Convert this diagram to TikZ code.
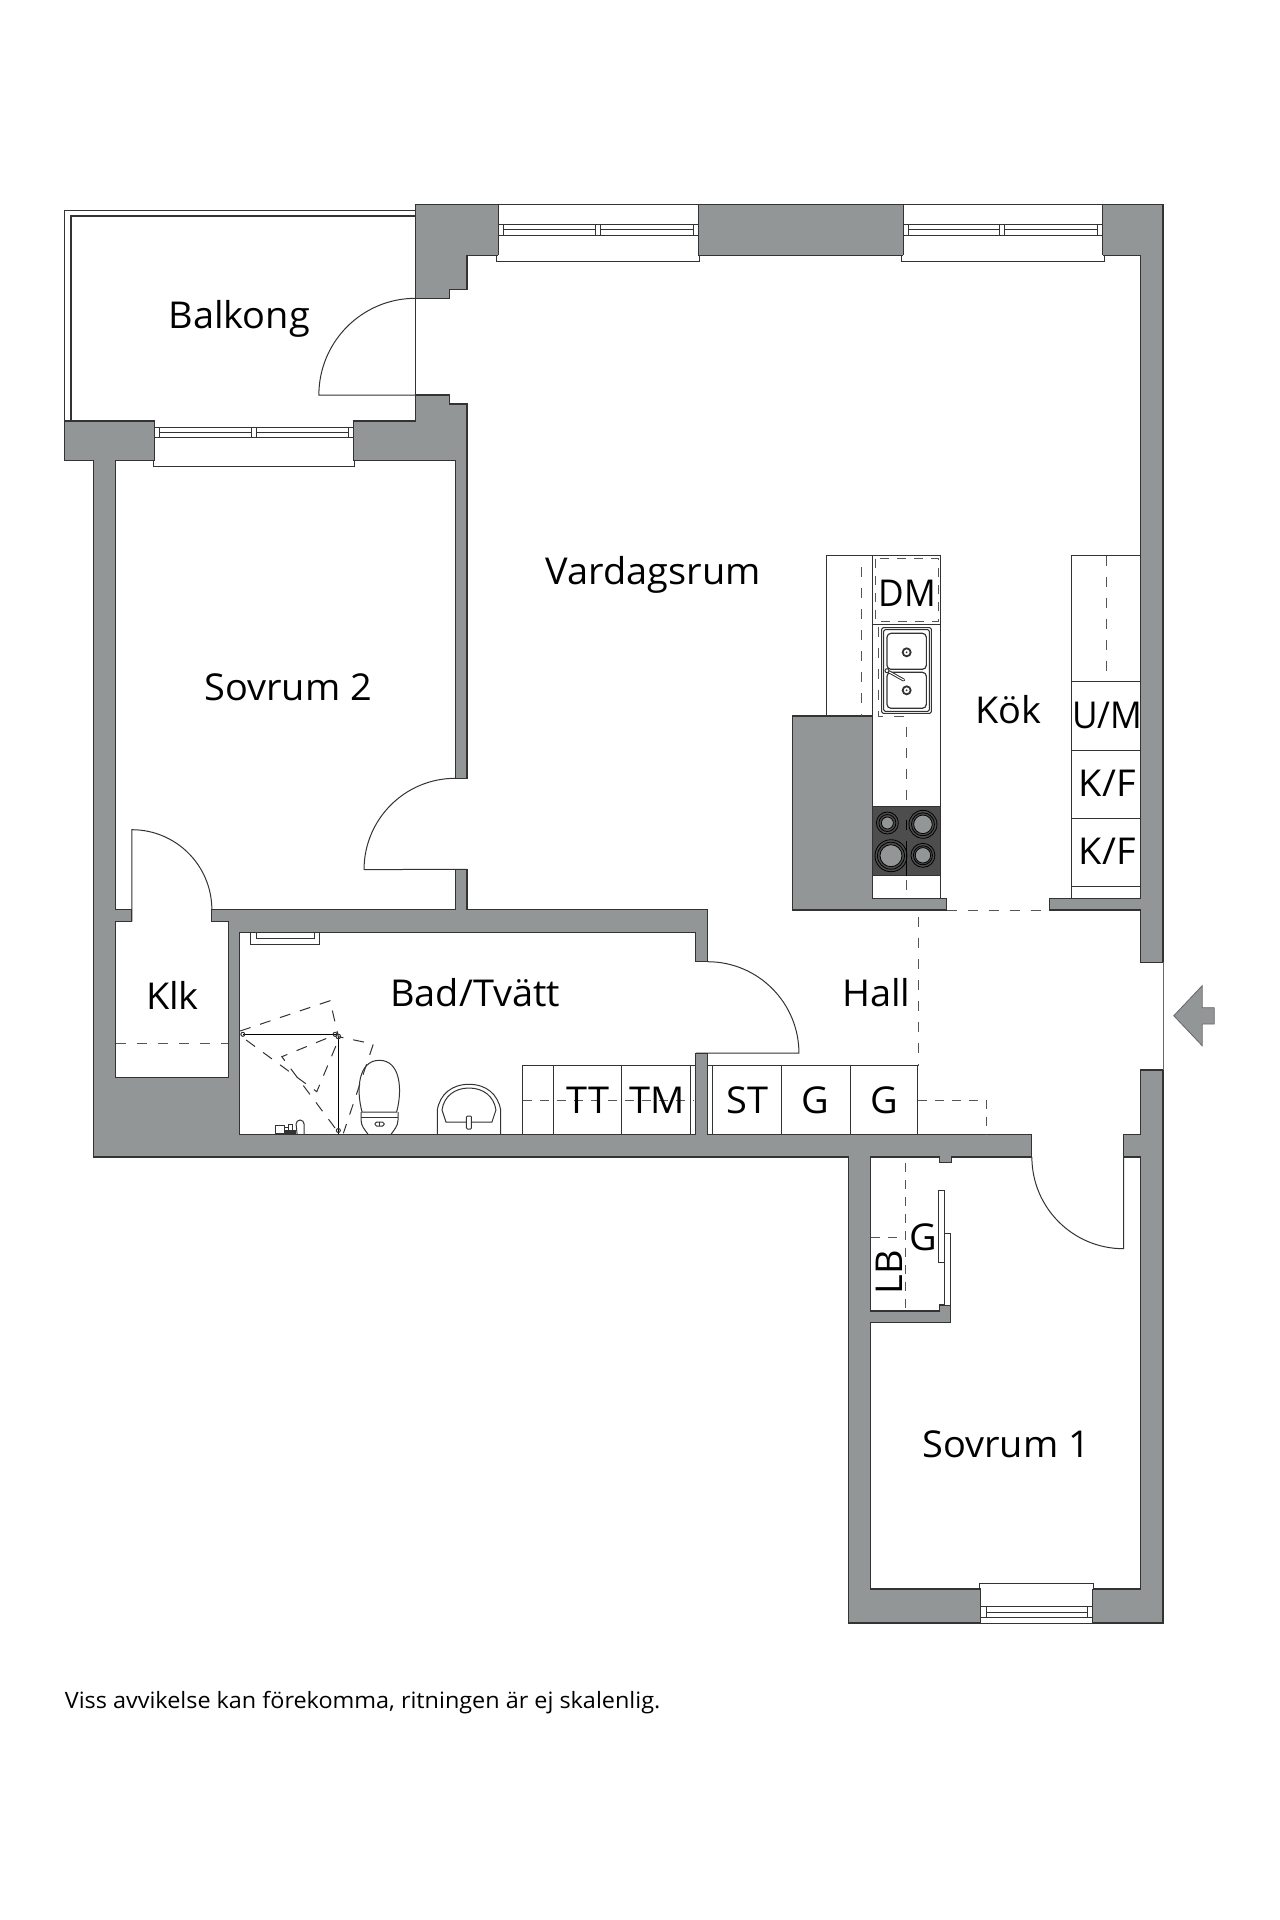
\documentclass[tikz,border=0pt]{standalone}
\usepackage{fontspec}
\setmainfont[FakeStretch=1.025]{Open Sans}
\newfontfamily\narrowfont[FakeStretch=0.95]{Open Sans}
\newfontfamily\notefont[FakeStretch=1.04]{Open Sans}
\definecolor{wallc}{HTML}{929696}
\definecolor{linec}{HTML}{333333}
\definecolor{hobc}{HTML}{4D4D4D}
\definecolor{dashc}{HTML}{555555}
\tikzset{
  wall/.style={fill=wallc,draw=linec,line width=1.1pt,line join=miter},
  thin line/.style={draw=linec,line width=1pt},
  dash line/.style={draw=dashc,line width=0.9pt,dash pattern=on 10pt off 11pt},
  room/.style={anchor=base,font=\fontsize{37}{37}\selectfont,text=black,inner sep=0pt},
  small dash/.style={draw=dashc,line width=0.9pt,dash pattern=on 9pt off 8pt},
  shower dash/.style={draw=linec,line width=1pt,dash pattern=on 11pt off 10pt},
}
\begin{document}
\begin{tikzpicture}[x=1pt,y=-1pt]
\useasboundingbox (0,0) rectangle (1280,1920);
\fill[white] (0,0) rectangle (1280,1920);
\begin{scope}[x=0.9993pt,xshift=0.3pt]
% balcony
\draw[thin line] (415.5,210) -- (64.5,210) -- (64.5,421);
\draw[thin line,line width=1.4pt] (415.5,216) -- (70.6,216) -- (70.6,421);
% walls: main shell
\path[wall] (415.5,204.3) -- (1163.5,204.3) -- (1163.5,962.3) -- (1141.3,962.3) -- (1141.3,910)
 -- (1050,910) -- (1050,898.3) -- (1141.3,898.3) -- (1141.3,255.3) -- (498.4,255.3) -- (467,255.3) -- (467,289.3) -- (449.8,289.3) -- (449.8,298.3) -- (415.5,298.3) -- cycle;
% lower balcony wall and right wall of Sovrum 2
\path[wall] (415.5,395) -- (449.8,395) -- (449.8,404) -- (467,404) -- (467,778.3) -- (455.3,778.3) -- (455.3,460.7) -- (353.5,460.7) -- (353.5,421) -- (415.5,421) -- cycle;
\path[wall] (64.5,421) -- (154.3,421) -- (154.3,460.7) -- (115.7,460.7) -- (115.7,909.7) -- (131.7,909.7) -- (131.7,921.3) -- (115.7,921.3) -- (115.7,1077.3) -- (228.3,1077.3) -- (228.3,921.3) -- (211.7,921.3) -- (211.7,909.7) -- (455.3,909.7) -- (455.3,869.3) -- (467,869.3) -- (467,909.7) -- (707.7,909.7) -- (707.7,961.7) -- (696,961.7) -- (696,932.3) -- (239.7,932.3) -- (239.7,1134.3) -- (696,1134.3) -- (696,1053.3) -- (707.7,1053.3) -- (707.7,1134.3) -- (1032.3,1134.3) -- (1032.3,1157) -- (951.7,1157) -- (951.7,1162.7) -- (939.7,1162.7) -- (939.7,1157) -- (871,1157) -- (871,1311) -- (940,1311) -- (940,1305) -- (951.3,1305) -- (951.3,1322.3) -- (871,1322.3) -- (871,1589) -- (981.3,1589) -- (981.3,1623) -- (848.7,1623) -- (848.7,1157) -- (93.3,1157) -- (93.3,460.7) -- (64.5,460.7) -- cycle;
% right wall lower and bedroom window right part
\path[wall] (1141.3,1070) -- (1163.5,1070) -- (1163.5,1623) -- (1093,1623) -- (1093,1589) -- (1141.3,1589) -- (1141.3,1157) -- (1124,1157) -- (1124,1134.3) -- (1141.3,1134.3) -- cycle;
% kitchen block
\path[wall] (792.7,716) -- (873,716) -- (873,898.3) -- (947,898.3) -- (947,910) -- (792.7,910) -- cycle;
% entrance line
\draw[draw=wallc!70!black,line width=0.8pt] (1163.5,962.3) -- (1163.5,1070);
% top windows
\foreach \a/\b/\m in {498.5/698.3/596,903.7/1103/1000}{
  \fill[white] (\a,204.3) rectangle (\b,259);
  \draw[thin line] (\a,204.3) -- (\b,204.3);
  \draw[thin line] (\a,204.3) -- (\a,255.3) (\b,204.3) -- (\b,255.3);
  \draw[draw=linec,line width=1pt] (\a-1.5,255.3) -- (\a-1.5,261) -- (\b+1.5,261) -- (\b+1.5,255.3);
  \draw[thin line] (\a,224.3) -- (\b,224.3) (\a,235.3) -- (\b,235.3);
  \draw[thin line] (\a+5,224.3) -- (\a+5,235.3) (\b-5,224.3) -- (\b-5,235.3);
  \draw[thin line] (\m,224.3) -- (\m,235.3) (\m+5,224.3) -- (\m+5,235.3);
  \draw[thin line] (\a+5,229.8) -- (\m,229.8) (\m+5,229.8) -- (\b-5,229.8);
}
% balcony window
\fill[white] (154.3,421.5) rectangle (353.5,464);
\draw[thin line] (154.3,421) -- (154.3,460.7) (353.5,421) -- (353.5,460.7);
\draw[thin line] (153,460.7) -- (153,466) -- (354.7,466) -- (354.7,460.7);
\draw[thin line] (154.3,427) -- (353.5,427) (154.3,437) -- (353.5,437);
\draw[thin line] (159,427) -- (159,437) (348.6,427) -- (348.6,437);
\draw[thin line] (251,427) -- (251,437) (256,427) -- (256,437);
\draw[thin line] (159,432) -- (251,432) (256,432) -- (348.6,432);
% bedroom 1 window
\fill[white] (981.3,1585) rectangle (1093,1622.5);
\draw[thin line] (981.3,1589) -- (981.3,1623) (1093,1589) -- (1093,1623);
\draw[thin line] (979.7,1589) -- (979.7,1583.3) -- (1094.3,1583.3) -- (1094.3,1589);
\draw[thin line] (981.3,1606.7) -- (1093,1606.7) (981.3,1617.3) -- (1093,1617.3) (981.3,1623) -- (1093,1623);
\draw[thin line] (986.5,1606.7) -- (986.5,1617.3) (1087.7,1606.7) -- (1087.7,1617.3);
\draw[thin line] (986.5,1612) -- (1087.7,1612);
% doors (the y axis points down, so angles run the other way)
\draw[thin line] (415.5,298.3) arc[start angle=270,end angle=180,radius=96.7] -- (449.8,395);
\draw[thin line] (415.5,298.3) -- (415.5,395);
\draw[thin line] (455.3,778.3) arc[start angle=270,end angle=180,radius=91.3] -- (467,869.3);
\draw[thin line] (131.7,921.3) -- (131.7,829.7) arc[start angle=270,end angle=360,radius=80];
\draw[thin line] (707.7,961.7) arc[start angle=270,end angle=360,radius=91.5] -- (696,1053.2);
\draw[thin line] (1032.3,1157) arc[start angle=180,end angle=90,radius=91.7] -- (1124,1157);
% bathroom vent
\draw[thin line] (250.7,932.3) -- (250.7,944) -- (319.3,944) -- (319.3,932.3);
\draw[thin line] (256,932.3) -- (256,938.6) -- (314,938.6) -- (314,932.3);
% Klk dash
\draw[dash line] (115.7,1043) -- (228.3,1043);
% kitchen left counter
\draw[thin line] (827,716) -- (827,555.7) -- (941.3,555.7) -- (941.3,898.3);
\draw[thin line] (873,555.7) -- (873,716);
\draw[thin line] (873,624.3) -- (941.3,624.3);
\draw[small dash] (876,558.7) rectangle (938.7,621.7);
\draw[dash line] (861.3,567) -- (861.3,716);
\draw[dash line] (878.7,626.7) -- (878.7,716) -- (907,716);
\draw[dash line] (907,726.7) -- (907,806.7);
% sink
\draw[thin line,rounded corners=1.5pt] (882,627.7) rectangle (931.7,713.3);
\draw[thin line,rounded corners=1.5pt] (884,629.7) rectangle (929.7,711.3);
\draw[thin line,line width=1.2pt,rounded corners=4pt] (887.3,633.3) rectangle (926.7,669.3);
\draw[thin line,line width=1.2pt,rounded corners=4pt] (887.3,672.3) rectangle (926.7,708.3);
\foreach \y in {652.3,690.3}{
  \draw[draw=linec,line width=1.8pt] (907,\y) circle[radius=4];
  \fill[linec] (907,\y) circle[radius=1];
}
\draw[draw=linec,line width=3pt,line cap=round] (887.3,670.7) -- (904,680);
\draw[draw=white,line width=1pt,line cap=round] (887.3,670.7) -- (904,680);
\draw[thin line,fill=white] (887.3,670.7) circle[radius=2];
% hob
\fill[hobc] (873,806.7) rectangle (941.3,875.7);
\draw[thin line] (873,806.7) rectangle (941.3,875.7);
\foreach \x/\y/\r/\s in {887.7/823/11/6,923.3/824.3/14/9.3,891.3/855.7/16/11,923.3/855.3/12/7.7}{
  \draw[draw=black,line width=0.8pt,fill=hobc] (\x,\y) circle[radius=\r];
  \draw[draw=black,line width=0.8pt] (\x,\y) circle[radius=\r-2.5];
  \draw[draw=black,line width=0.8pt,fill=wallc] (\x,\y) circle[radius=\s];
}
\draw[draw=black,line width=0.7pt] (907,820) -- (907,830) (907,841) -- (907,875.7);
\draw[dash line] (907,880) -- (907,898.3);
% kitchen right counter
\draw[thin line] (1072.3,898.3) -- (1072.3,555.7) -- (1141.3,555.7);
\draw[thin line] (1072.3,681.7) -- (1141.3,681.7) (1072.3,750) -- (1141.3,750) (1072.3,818.3) -- (1141.3,818.3) (1072.3,886.7) -- (1141.3,886.7);
\draw[dash line] (1107,555.7) -- (1107,681.7);
\draw[dash line] (947,910) -- (1050,910);
% hall dash
\draw[dash line] (918.3,916.7) -- (918.3,1065.7);
\draw[small dash] (918.3,1100) -- (986.7,1100) -- (986.7,1134.3);
% cabinets
\draw[thin line] (522.7,1134.3) -- (522.7,1065.7) -- (696,1065.7);
\draw[thin line] (553.3,1065.7) -- (553.3,1134.3) (621.7,1065.7) -- (621.7,1134.3) (690.7,1065.7) -- (690.7,1134.3);
\draw[thin line] (707.7,1065.7) -- (918.3,1065.7) -- (918.3,1134.3);
\draw[thin line] (713,1065.7) -- (713,1134.3) (781.7,1065.7) -- (781.7,1134.3) (850.3,1065.7) -- (850.3,1134.3);
\draw[small dash] (522.7,1100) -- (694,1100);
% shower
\draw[draw=black,line width=1.2pt] (242.7,1034.3) -- (338.3,1034.3);
\draw[draw=black,line width=1.2pt] (338.3,1036) -- (338.3,1134.3);
\draw[thin line] (242.7,1034.3) circle[radius=2] (335,1034.3) circle[radius=2] (338.3,1036.5) circle[radius=2.3] (338.3,1130.5) circle[radius=2];
\draw[shower dash] (240,1031) -- (330,1000.7) -- (338.3,1036.7) -- (373.3,1044) -- (343.3,1133.3);
\draw[shower dash] (246,1040) -- (316.7,1091.7) -- (338.3,1040);
\draw[shower dash] (335,1128) -- (281.7,1056.7) -- (333,1035.7);
% shower mixer
\draw[thin line] (275,1125) rectangle (284,1133);
\draw[thin line] (284,1127) rectangle (288,1132);
\draw[thin line,fill=white] (288,1124) rectangle (292,1134);
\draw[thin line] (297,1134) -- (296,1124) arc[start angle=180,end angle=360,radius=4] -- (304,1134);
\fill[linec] (284,1130) rectangle (296,1134);
% toilet
\draw[thin line] (362,1112) .. controls (356,1090) and (358,1060.3) .. (379.3,1060.3) .. controls (400.6,1060.3) and (402.6,1090) .. (396.6,1112) -- cycle;
\draw[thin line] (361,1112) -- (361,1120) .. controls (361,1126) and (365,1130) .. (368,1134.3);
\draw[thin line] (398,1112) -- (398,1120) .. controls (398,1126) and (394,1130) .. (391,1134.3);
\draw[thin line] (361,1117.5) -- (398,1117.5);
\draw[thin line,rounded corners=1.5pt] (375,1122) rectangle (384,1126);
\draw[thin line] (379.5,1122) -- (379.5,1126);
% basin
\draw[thin line] (437.3,1134.3) -- (437.3,1110) .. controls (440,1094) and (452,1084.3) .. (469,1084.3) .. controls (486,1084.3) and (498,1094) .. (500.7,1110) -- (500.7,1134.3);
\draw[thin line] (442,1110) .. controls (444,1096) and (455,1088) .. (469,1088) .. controls (483,1088) and (494,1096) .. (496,1110);
\draw[thin line] (442,1110) -- (446,1122) -- (492,1122) -- (496,1110);
\draw[thin line,fill=white,rounded corners=1pt] (466.5,1116) rectangle (471.5,1129);
% closet doors
\draw[thin line,fill=white] (939,1190.7) rectangle (945.3,1262.7);
\draw[thin line,fill=white] (945.3,1233.3) rectangle (950.7,1305);
\draw[small dash] (905.7,1162.7) -- (905.7,1311);
\draw[small dash] (871,1237) -- (905.7,1237);
% arrow
\path[fill=wallc,draw=wallc!70!black,line width=0.8pt] (1174.3,1015.7) -- (1202.7,985.7) -- (1202.7,1007.7) -- (1214.7,1007.7) -- (1214.7,1024) -- (1202.7,1024) -- (1202.7,1045.7) -- cycle;
% labels
\node[room] (balkong) at (239,328.3) {Balkong};
\node[room] (vardag) at (653.5,584) {Vardagsrum};
\node[room] (sov2) at (288,700.6) {Sovrum 2};
\node[room] (klk) at (172.3,1009) {Klk};
\node[room] (bad) at (475.3,1006) {Bad/Tvätt};
\node[room] (hall) at (876.7,1006.7) {Hall};
\node[room] (sov1) at (1006.7,1457.7) {Sovrum 1};
\node[room] (kok) at (1008.7,723.3) {Kök};
\node[room] (dm) at (908,606) {\narrowfont DM};
\node[room] (um) at (1107.7,728.3) {\narrowfont U/M};
\node[room] (kf1) at (1107.7,796.7) {K/F};
\node[room] (kf2) at (1107.7,864.3) {K/F};
\node[room] (tt) at (588.3,1113.3) {TT};
\node[room] (tm) at (657.5,1113.3) {TM};
\node[room] (st) at (747.3,1113.3) {ST};
\node[room] (g1) at (815.7,1113.3) {G};
\node[room] (g2) at (884.3,1113.3) {G};
\node[room] (g3) at (923.3,1250) {G};
\node[room,rotate=90] (lb) at (903.3,1272) {LB};
\node[anchor=base west,font=\fontsize{22.5}{22.5}\selectfont,inner sep=0pt] (note) at (64.4,1708.5) {\notefont Viss avvikelse kan förekomma, ritningen är ej skalenlig.};
\end{scope}
\end{tikzpicture}
\end{document}
